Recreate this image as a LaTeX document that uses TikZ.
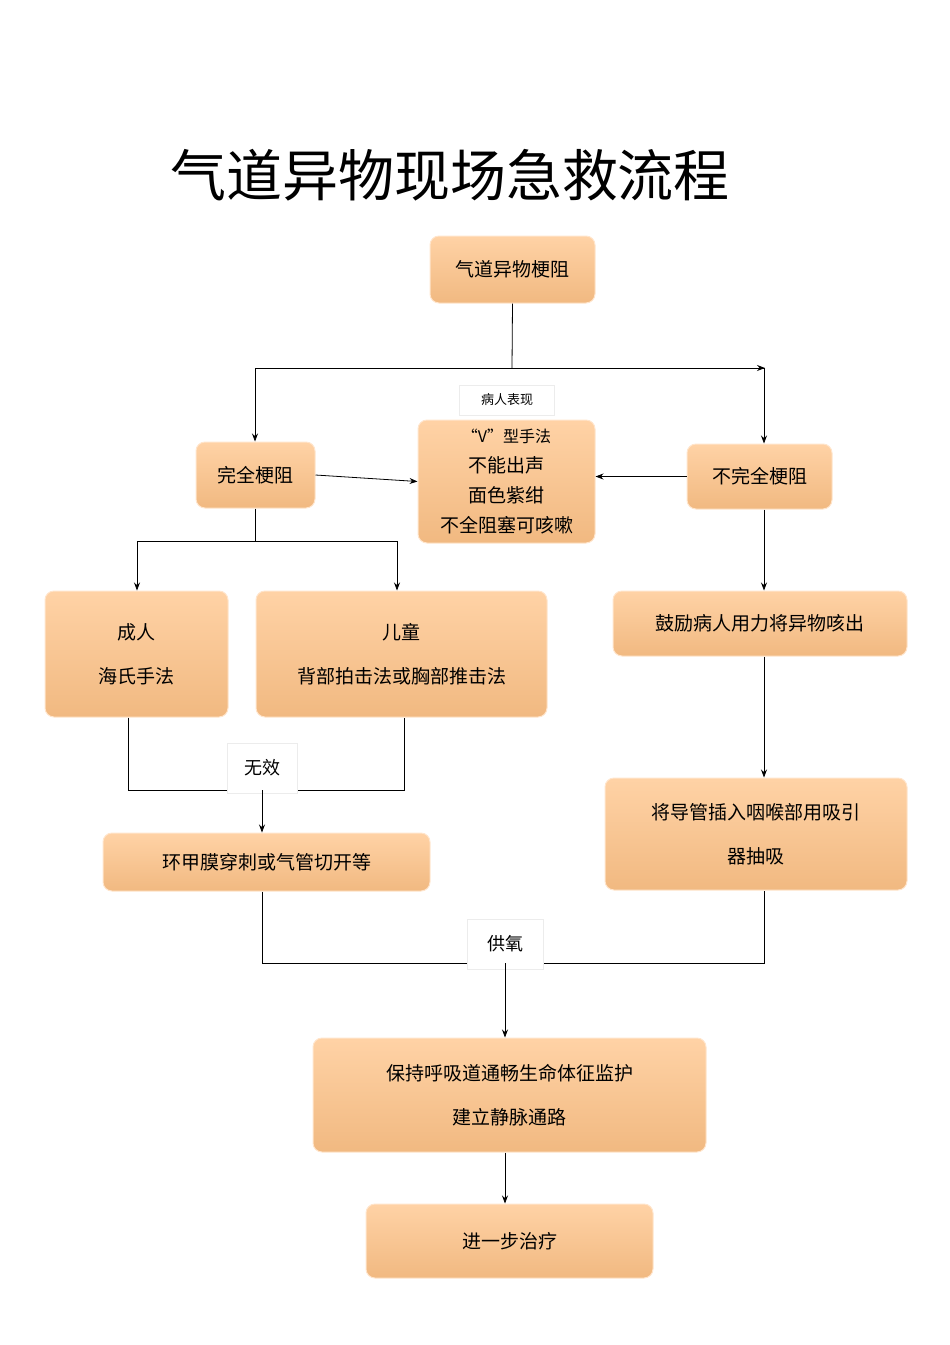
\documentclass[tikz,border=0pt]{standalone}
\usepackage{fontspec}
\setmainfont{Noto Sans CJK SC}
\usetikzlibrary{arrows.meta}
\begin{document}
\begin{tikzpicture}[x=1pt,y=-1pt,
 box/.style={rounded corners=9pt,draw=white!80!orange,line width=1pt,top color=orange!35!white,bottom color=orange!60!brown!55!white,shading angle=0,inner sep=0pt,font=\fontsize{19}{30}\selectfont,align=center},
 lbl/.style={fill=white,draw=gray!15,font=\fontsize{18}{22}\selectfont,inner sep=4pt},
 ln/.style={line width=0.8pt},
 ar/.style={ln,-{Stealth[length=8pt,width=6pt]}}]
\useasboundingbox (0,0) rectangle (950,1345);
\newcommand\bx[6]{\node[box,minimum width=#4-#2,minimum height=#5-#3] (#1) at ({(#2+#4)/2},{(#3+#5)/2}) {#6};}
\node (title) at (450,175) {\fontsize{56}{60}\selectfont 气道异物现场急救流程};
\bx{a}{430}{236}{595}{303}{气道异物梗阻}
\bx{w}{196}{442}{315}{508}{完全梗阻}
\bx{c}{418}{420}{595}{543}{\fontsize{16}{25}\selectfont “V”型手法\\不能出声\\面色紫绀\\不全阻塞可咳嗽}
\bx{n}{687}{444}{832}{509}{不完全梗阻}
\bx{ad}{45}{591}{228}{717}{成人\\[14pt]海氏手法}
\bx{ch}{256}{591}{547}{717}{儿童\\[14pt]背部拍击法或胸部推击法}
\bx{en}{613}{591}{907}{656}{鼓励病人用力将异物咳出}
\bx{hj}{103}{833}{430}{891}{环甲膜穿刺或气管切开等}
\bx{dg}{605}{778}{907}{890}{将导管插入咽喉部用吸引\\[14pt]器抽吸}
\bx{bc}{313}{1038}{706}{1152}{保持呼吸道通畅生命体征监护\\[14pt]建立静脉通路}
\bx{jy}{366}{1204}{653}{1278}{进一步治疗}
\coordinate (s1) at (512,368);
\draw[ln] (a.south) -- (s1);
\draw[ar] (255,368) -- (765,368) ;
\draw[ln] (255,368) -- (765,368);
\draw[ar] (255,368) -- (w.north-|255,0);
\draw[ar] (764,368) -- (n.north-|764,0);
\node[lbl,font=\fontsize{13}{16}\selectfont,minimum width=95,minimum height=30] (p) at (507,400) {病人表现};
\draw[ar] (w.east) -- (c.west);
\draw[ar] (n.west) -- (c.east|-n.west);
\draw[ln] (w.south-|255,0) -- (255,541) coordinate (s2);
\draw[ln] (137,541) -- (397,541);
\draw[ar] (137,541) -- (ad.north-|137,0);
\draw[ar] (397,541) -- (ch.north-|397,0);
\draw[ar] (n.south-|764,0) -- (en.north-|764,0);
\draw[ar] (en.south-|764,0) -- (dg.north-|764,0);
\draw[ln] (ad.south-|128,0) -- (128,790) -- (404,790) -- (ch.south-|404,0);
\node[lbl,minimum width=70,minimum height=50] (wx) at (262,768) {无效};
\draw[ar] (262,790) -- (hj.north-|262,0);
\draw[ln] (hj.south-|262,0) -- (262,963) -- (764,963) -- (dg.south-|764,0);
\node[lbl,minimum width=76,minimum height=50] (gy) at (505,944) {供氧};
\draw[ar] (505,963) -- (bc.north-|505,0);
\draw[ar] (bc.south-|505,0) -- (jy.north-|505,0);
\end{tikzpicture}
\end{document}
